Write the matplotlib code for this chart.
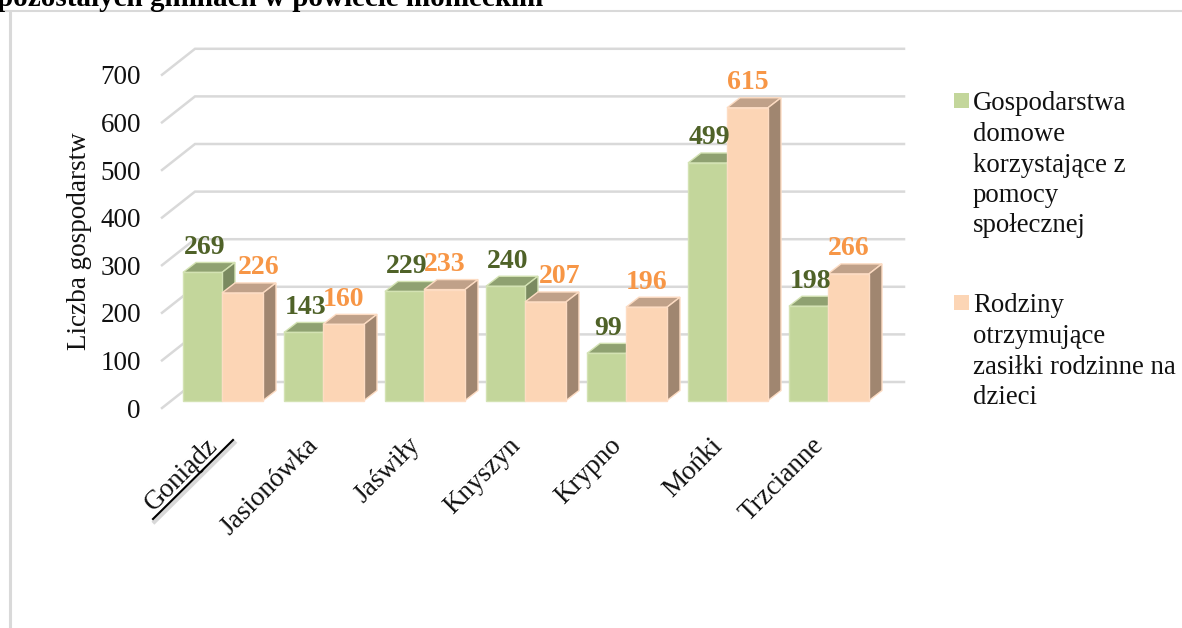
import matplotlib
matplotlib.use('Agg')
from matplotlib import pyplot as plt
from matplotlib.patches import Polygon, Rectangle
import matplotlib.patheffects as pe

plt.rcParams['font.family'] = ['Liberation Serif', 'DejaVu Serif']

# data
gminy = ['Goniądz', 'Jasionówka', 'Jaświły', 'Knyszyn', 'Krypno', 'Mońki', 'Trzcianne']
gospodarstwa = [269, 143, 229, 240, 99, 499, 198]
rodziny = [226, 160, 233, 207, 196, 615, 266]
y_ticks = [0, 100, 200, 300, 400, 500, 600, 700]
legend_gosp = ['Gospodarstwa', 'domowe', 'korzystające z', 'pomocy', 'społecznej']
legend_rodz = ['Rodziny', 'otrzymujące', 'zasiłki rodzinne na', 'dzieci']
title = 'pozostałych gminach w powiecie monieckim'

W, H = 1182, 628
px_step = 101.0     # pixels per category
px_unit = 0.476     # pixels per value unit
x0_px, y0_px = 222.0, 400.5


def X(px):
    return (px - x0_px) / px_step


def Y(px):
    return (y0_px - px) / px_unit


fig = plt.figure(figsize=(W / 100, H / 100), dpi=100)
ax = fig.add_axes([0, 0, 1, 1])
ax.set_xlim(X(0), X(W))
ax.set_ylim(Y(H), Y(0))
ax.axis('off')

# frame of the chart area
grid_col = '#d9d9d9'
ax.plot([X(0), X(W)], [Y(11), Y(11)], color=grid_col, lw=1.5)
ax.plot([X(10), X(10)], [Y(11), Y(H)], color=grid_col, lw=2.2)
ax.text(X(-3), Y(6.5), title, fontsize=21, fontweight='bold', ha='left', va='baseline', color='black')

# 3d gridlines
dx_grid = 33 / px_step
dy_grid = 26 / px_unit
front_shift = -7.5 / px_unit
for v in y_ticks:
    fy = v + front_shift
    ax.plot([X(162), X(162) + dx_grid, X(904)], [fy, fy + dy_grid, fy + dy_grid],
            color=grid_col, lw=1.8, zorder=1, solid_joinstyle='miter')
    ax.text(X(141), fy, str(v), fontsize=19.5, ha='right', va='center_baseline', color='#111111')

ax.text(X(79), Y(241), 'Liczba gospodarstw', fontsize=19.5, rotation=90, ha='center', va='center', color='#111111')

# bars
dx = 13 / px_step
dy = 10 / px_unit
green = dict(front='#c3d69b', top='#8fa171', side='#7a8a60', edge='#d3e2b3', label='#4f6228')
peach = dict(front='#fcd5b5', top='#c0a189', side='#a08670', edge='#fddcc3', label='#f79646')
w_green, w_peach = 39 / px_step, 41 / px_step


def bar3d(left, width, val, c, z):
    ax.bar(left, val, width, align='edge', color=c['front'], edgecolor=c['edge'], lw=1.0, zorder=z + 0.2)
    r = left + width
    ax.add_patch(Polygon([(left, val), (r, val), (r + dx, val + dy), (left + dx, val + dy)],
                         facecolor=c['top'], edgecolor=c['edge'], lw=1.0, zorder=z))
    ax.add_patch(Polygon([(r, 0), (r + dx, dy), (r + dx, val + dy), (r, val)],
                         facecolor=c['side'], edgecolor=c['edge'], lw=1.0, zorder=z + 0.1))


nudge_peach = {0: 16, 3: 14}
label_gap = 25 / px_unit
for i, name in enumerate(gminy):
    bar3d(i - w_green, w_green, gospodarstwa[i], green, 3 + i)
    bar3d(i, w_peach, rodziny[i], peach, 3.5 + i)
    ax.text(i - w_green / 2 + 2 / px_step, gospodarstwa[i] + label_gap, str(gospodarstwa[i]), fontsize=20,
            fontweight='bold', color=green['label'], ha='center', va='center', zorder=20)
    ax.text(i + w_peach / 2 + nudge_peach.get(i, 0) / px_step, rodziny[i] + label_gap, str(rodziny[i]), fontsize=20,
            fontweight='bold', color=peach['label'], ha='center', va='center', zorder=20)
    ax.text(i - 17 / px_step, Y(433), name, fontsize=19.5, rotation=45, rotation_mode='anchor',
            ha='right', va='top', color='#111111')

# underline below first label
ax.plot([X(153), X(233)], [Y(519), Y(440)], color='black', lw=1.5, zorder=6,
        path_effects=[pe.SimpleLineShadow(offset=(1, -2), shadow_color='gray', alpha=0.3, linewidth=3), pe.Normal()])

# legend
for lines, c, y_first in [(legend_gosp, green, 101), (legend_rodz, peach, 303)]:
    ax.add_patch(Rectangle((X(954), Y(y_first + 7)), 15 / px_step, 15 / px_unit, facecolor=c['front'], edgecolor='none'))
    for j, line in enumerate(lines):
        ax.text(X(973), Y(y_first + j * 30.5), line, fontsize=19.3, ha='left', va='center_baseline', color='#111111')

fig.savefig('out.png', dpi=100)
